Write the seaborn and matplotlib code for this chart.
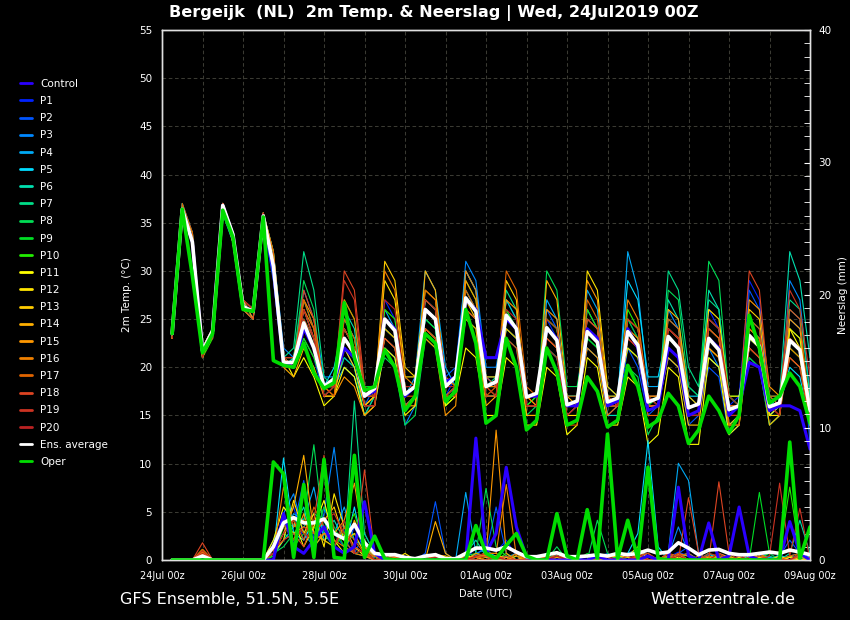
import numpy as np
import pandas as pd
import seaborn as sns
import matplotlib
matplotlib.use("Agg")
import matplotlib.pyplot as plt
from matplotlib.lines import Line2D
from matplotlib.ticker import MultipleLocator

# 6-hourly steps, 24Jul 06z .. 09Aug 00z
times = pd.date_range("2019-07-24 06:00", periods=64, freq="6h")

names = ["Control"] + ["P%d" % i for i in range(1, 21)] + ["Ens. average", "Oper"]
colors = ["#2a00ff", "#0022ff", "#0055ff", "#0088ff", "#00aaf5", "#00dcff",
          "#00e0b0", "#00dd88", "#00dd55", "#00dd25", "#22ee00",
          "#ffff00", "#ffe400", "#ffcc00", "#ffb000", "#ff9800", "#f08000",
          "#e06400", "#dd4422", "#cc3322", "#bb2222", "#ffffff", "#00dd00"]

# 2m temperature (degC)
t_control = [23.5,36.4,33.0,21.7, 23.8,36.8,33.8,26.3, 25.8,35.7,30.0,20.5, 20.0,24.0,22.0,18.0, 18.5,22.0,21.0,17.0, 17.5,25.0,24.0,17.0, 18.0,26.0,25.0,18.5, 19.0,27.0,26.0,21.0, 21.0,25.0,24.0,17.0, 17.0,24.0,23.0,16.0, 16.0,24.0,23.0,16.0, 16.5,24.0,22.0,15.5, 16.0,22.0,21.0,15.0, 15.5,23.0,22.0,15.0, 16.0,20.5,20.0,15.5, 16.0,16.0,15.5,11.5]
t_p1 = [24,36,33,22, 24,37,34,27, 26,36,31,21, 20,26,23,18, 19,22,20,16, 17,27,25,17, 18,25,24,17, 19,28,26,19, 18,27,25,17, 17,25,23,16, 16,22,21,15, 16,25,23,17, 17,23,22,15, 15,26,24,16, 17,29,27,15, 16,25,24,14]
t_p2 = [23,36,33,21, 24,37,33,26, 25,35,29,20, 20,23,21,17, 18,21,20,16, 18,24,23,16, 17,27,26,19, 20,30,28,19, 19,24,23,16, 16,26,24,17, 17,25,24,15, 15,22,20,15, 16,21,20,14, 15,20,19,13, 14,28,26,17, 16,26,25,12]
t_p3 = [24,37,34,22, 23,37,34,27, 26,36,32,22, 21,28,25,19, 19,24,22,16, 16,22,21,14, 16,24,23,17, 18,31,29,20, 20,26,24,17, 17,23,22,16, 16,26,24,18, 17,24,22,17, 16,26,24,18, 17,22,20,15, 16,21,20,14, 15,29,27,17]
t_p4 = [23,36,33,21, 24,37,34,27, 25,36,30,20, 21,25,22,18, 18,20,19,15, 17,26,24,17, 19,30,28,20, 18,26,25,17, 17,24,23,16, 16,27,25,17, 17,28,26,16, 16,32,28,18, 18,25,24,16, 16,21,20,14, 15,24,23,16, 17,23,22,16]
t_p5 = [24,36,33,22, 24,36,33,26, 26,35,31,21, 20,24,22,18, 20,25,23,18, 18,23,22,16, 17,27,26,18, 19,30,28,19, 18,25,24,17, 17,22,21,15, 16,24,23,16, 17,29,27,19, 19,24,23,17, 17,25,24,16, 16,23,22,15, 16,20,19,14]
t_p6 = [23,36,33,22, 24,37,34,27, 26,36,31,20, 21,27,24,18, 18,26,24,16, 17,25,24,17, 18,25,24,17, 18,27,26,18, 18,27,25,16, 17,24,23,17, 17,22,21,15, 15,24,22,16, 17,27,25,17, 16,28,26,17, 16,25,24,16, 17,32,29,21]
t_p7 = [24,37,33,22, 24,37,34,27, 26,36,32,21, 22,32,28,19, 18,21,20,15, 17,24,23,17, 18,26,25,18, 19,28,26,18, 19,28,26,17, 17,25,24,16, 16,23,22,17, 17,22,21,16, 16,30,28,20, 18,27,26,16, 16,24,23,17, 17,27,26,17]
t_p8 = [23,36,33,21, 24,37,33,26, 25,35,30,21, 21,29,26,17, 18,25,23,17, 18,21,20,14, 15,23,22,16, 18,25,24,17, 17,23,22,15, 16,30,28,18, 18,24,23,17, 16,20,19,13, 15,28,27,18, 17,31,29,17, 16,22,21,15, 15,24,23,15]
t_p9 = [24,36,33,22, 24,37,34,27, 26,36,31,21, 20,25,23,17, 18,27,25,18, 18,24,23,16, 17,25,24,16, 18,29,27,19, 19,24,23,16, 16,22,21,16, 16,23,22,16, 16,25,23,16, 17,22,21,15, 15,24,23,17, 17,21,20,14, 15,23,22,16]
t_p10 = [23,36,33,21, 23,37,33,26, 26,35,30,20, 20,23,21,18, 19,24,22,17, 17,26,25,18, 18,24,23,16, 17,26,25,18, 18,26,24,16, 17,25,24,17, 17,26,24,16, 16,26,24,17, 16,23,22,15, 15,23,22,15, 16,25,24,17, 16,22,21,15]
t_p11 = [24,36,33,22, 24,37,34,27, 26,35,31,21, 19,21,19,16, 17,20,19,15, 16,22,21,15, 16,24,23,16, 17,22,21,15, 15,21,20,14, 14,20,19,13, 14,21,20,14, 14,19,18,12, 13,20,19,12, 12,21,20,13, 14,23,22,15, 16,24,22,15]
t_p12 = [23,36,33,21, 24,37,33,26, 25,35,30,20, 20,26,23,17, 17,22,20,16, 17,29,27,19, 19,28,27,19, 18,26,25,17, 17,25,24,16, 16,23,22,15, 15,30,28,18, 17,22,21,16, 16,24,23,16, 16,26,25,17, 17,22,21,15, 15,24,23,16]
t_p13 = [24,36,34,22, 24,37,34,27, 26,36,32,21, 20,24,22,18, 18,23,21,16, 17,31,29,20, 19,27,26,17, 18,27,25,18, 17,29,27,15, 15,24,23,16, 16,25,24,17, 16,23,22,16, 16,21,20,14, 14,22,21,14, 15,26,25,16, 16,21,20,15]
t_p14 = [23,36,33,21, 24,37,33,26, 26,36,31,20, 19,22,20,17, 17,24,22,16, 17,23,22,16, 16,30,28,18, 19,25,24,16, 17,24,23,15, 15,29,27,17, 16,24,23,16, 16,25,24,17, 17,26,25,17, 16,24,23,15, 15,22,21,14, 15,25,24,16]
t_p15 = [24,36,33,22, 24,37,34,27, 25,35,30,21, 20,27,25,18, 17,19,18,15, 16,24,23,16, 17,23,22,15, 16,29,27,19, 19,27,26,17, 16,26,25,16, 16,29,27,17, 17,24,23,16, 16,24,23,16, 16,22,21,14, 14,27,26,18, 17,23,22,14]
t_p16 = [23,36,33,21, 24,37,34,27, 26,36,31,21, 21,26,24,18, 18,27,25,17, 17,30,28,19, 18,24,23,17, 17,30,28,18, 18,25,24,17, 16,24,23,16, 16,22,21,15, 16,27,25,17, 17,23,22,15, 15,25,24,16, 16,24,23,16, 15,22,21,15]
t_p17 = [24,37,34,22, 24,37,34,27, 26,36,32,21, 20,27,24,18, 17,25,23,16, 16,25,24,17, 17,28,27,19, 18,28,26,17, 18,30,28,18, 17,23,22,14, 14,27,25,17, 16,23,22,15, 15,25,24,16, 16,23,22,14, 14,24,23,17, 17,26,25,15]
t_p18 = [23,36,33,22, 23,37,33,26, 25,35,30,20, 20,28,25,17, 18,30,28,18, 17,23,22,16, 17,24,23,17, 17,27,26,19, 18,23,22,16, 16,23,22,15, 16,24,23,16, 16,23,22,16, 16,22,21,15, 15,24,23,16, 16,30,28,17, 16,21,20,14]
t_p19 = [24,36,33,22, 24,37,34,27, 26,36,31,21, 21,25,23,18, 18,29,27,17, 17,25,24,18, 18,26,25,17, 18,26,25,17, 17,25,24,16, 16,25,24,17, 17,25,24,16, 16,25,24,17, 16,24,23,16, 16,23,22,15, 15,25,24,16, 16,28,26,19]
t_p20 = [23,36,33,21, 24,37,34,27, 26,36,31,21, 20,26,23,17, 18,24,22,16, 16,27,26,18, 18,27,26,18, 18,27,26,18, 17,26,25,16, 16,22,21,15, 16,24,23,17, 16,23,22,17, 16,24,23,15, 15,25,24,17, 16,22,21,16, 15,23,22,15]
t_mean = [23.5,36.4,33.0,21.7, 23.8,36.8,33.8,26.3, 25.8,35.7,30.5,20.5, 20.5,24.6,22.0,18.0, 18.8,23.0,21.5,17.0, 17.8,25.0,23.8,17.2, 18.0,26.0,25.0,18.0, 19.0,27.2,25.8,18.0, 18.5,25.4,24.0,16.9, 17.3,24.1,22.8,16.1, 16.5,23.7,22.6,16.4, 16.8,23.7,22.3,16.4, 16.8,23.2,22.0,15.8, 16.2,23.0,21.8,15.6, 16.0,23.3,22.2,15.9, 16.3,22.8,21.8,15.5]
t_oper = [23.5,36.4,29.5,21.5, 23.5,36.3,33.5,26.0, 25.8,35.6,20.7,20.2, 20.0,22.5,19.4,17.8, 18.4,26.7,21.0,17.6, 18.0,21.8,20.0,15.5, 17.0,23.5,22.5,16.5, 17.5,26.0,22.5,14.2, 15.0,23.0,20.0,13.5, 14.5,22.0,19.5,14.0, 14.5,19.0,17.5,13.8, 14.5,20.2,18.0,13.8, 14.5,17.3,16.0,12.1, 13.5,17.0,15.5,13.2, 15.0,25.4,22.0,16.3, 17.0,19.4,18.0,14.2]

# precipitation (mm)
r_control = [0,0,0,0.2, 0,0,0,0, 0,0,0,3.5, 1.0,0.5,1.5,2.5, 1.0,0.5,1.0,4.4, 0.5,0,0,0, 0,0,0,0, 0,0,9.2,0.5, 2.0,7.0,2.5,0.2, 0,0,0,0, 0,0,0.3,0, 0,0,0,0.3, 0,0,5.5,0.3, 0,2.8,0,0.3, 4.0,0.3,0,0, 0,2.9,0.5,0]
r_p1 = [0,0,0,0.3, 0,0,0,0, 0,0,0.8,2.5, 4.0,1.5,3.0,2.0, 1.0,0.5,2.5,0.8, 0.3,0.2,0,0, 0,0.2,0.5,0, 0,0,0.4,1.0, 0.6,1.5,0.3,0, 0,0.2,0,0, 0,0.3,0.5,0, 0.2,0,0.4,0.3, 0,0.2,0.6,0.3, 0,0.4,0.2,0, 0,0,0.3,0.5, 0,0.2,0.3,0]
r_p2 = [0,0,0,0.2, 0,0,0,0, 0,0,1.5,3.0, 2.5,6.0,1.5,4.0, 2.0,1.0,0.5,2.0, 0.5,0,0.3,0, 0,0.5,4.4,0.5, 0,0,1.0,0.5, 4.0,0.5,0,0, 0,0.5,0.3,0, 0,0,0.2,0.5, 0,0,0.3,0, 0,0,0.5,1.0, 0.3,0,0.5,0.2, 0,0.5,0,0, 0.3,1.5,0.5,0]
r_p3 = [0,0,0,0.3, 0,0,0,0, 0,0,0.5,3.5, 5.0,2.0,1.0,3.5, 8.5,2.0,1.0,0.5, 0.2,0.5,0.2,0, 0,0,0.3,0, 0,0,0.5,0.8, 0.2,0.3,0,0.3, 0,0,0.5,0, 0,0,0,0.2, 0,0.5,0.8,0.3, 0,0.3,2.5,0.5, 0,0,0.3,0.2, 0,0,0.5,0.2, 0,0.3,0.5,0.2]
r_p4 = [0,0,0,0.4, 0,0,0,0, 0,0,1.0,2.0, 3.5,3.0,5.5,1.5, 2.0,4.0,1.5,1.0, 0.3,0,0,0.2, 0,0,0,0, 0,5.1,0.5,0.3, 0,0.2,0.5,0, 0,0,0.3,0, 0,0,0.5,0.3, 0,0,0.5,0, 0,0.5,7.3,6.0, 0.5,0,0,0, 0.3,0,0,0.2, 0,0,0.5,0]
r_p5 = [0,0,0,0.2, 0,0,0,0, 0,0,0.5,7.7, 2.0,1.5,3.0,2.5, 1.0,0.5,4.0,0.5, 0,0.2,0,0, 0,0,0.3,0, 0,0,0.2,0.5, 0.3,0,0,0.2, 0,0,0,0.4, 0,0,0.3,0, 0,0.5,2.0,9.0, 1.0,0,0.3,0.5, 0,0.5,0,0, 0,0.3,0,0, 0.4,0,0,0.3]
r_p6 = [0,0,0,0.3, 0,0,0,0, 0,0,0.3,1.5, 2.5,4.0,1.0,2.0, 3.0,1.5,0.5,0.3, 0,0,0.5,0, 0,0.3,0,0, 0,0.5,1.5,0.3, 0,0,0.3,0, 0,0.5,0,0, 0,0,0.2,0, 0.3,0,0.5,0, 0,0,0.4,0.3, 0,0,0.5,0, 0,0,0.3,0, 0,0.5,3.0,0.5]
r_p7 = [0,0,0,0.5, 0,0,0,0, 0,0,0.5,2.0, 1.5,2.5,3.5,3.0, 1.0,0.5,12.0,2.0, 0.5,0,0.3,0, 0,0,0.3,0, 0,0,0.5,0.2, 0,0.3,0,0, 0,0,0.5,0.3, 0,0,0,0.2, 0,0,0.3,0, 0.2,0,0.5,0, 0,0.3,0,0, 0,0,0.2,0.3, 0,0,0.5,0]
r_p8 = [0,0,0,0.4, 0,0,0,0, 0,0,0.5,1.0, 2.0,3.0,8.7,2.0, 1.0,3.0,0.5,0.8, 0,0,0.2,0, 0,0,0.2,0, 0,0.3,0.5,5.4, 1.0,0.3,0,0, 0.2,0,1.0,0, 0,0,3.0,0.5, 0,0,0.2,0, 0,0.3,0.2,0, 0,0.5,0.2,0, 0,0,0.3,0, 0,0.3,0,0.2]
r_p9 = [0,0,0,0.3, 0,0,0,0, 0,0,1.0,3.0, 1.0,2.0,1.5,4.0, 2.5,1.0,2.0,1.5, 0.5,0,0,0, 0,0.3,0,0, 0,0,0.5,0.3, 0,0,0.3,0, 0,0,0.2,0, 0,0.5,0,0, 0.2,0,0.4,0, 0,0,0.2,0, 0,0.2,0,0.3, 0,0,5.1,0.5, 0,0,0.3,0]
r_p10 = [0,0,0,0.5, 0,0,0,0, 0,0,0.3,2.5, 3.0,2.0,2.5,1.5, 1.0,2.0,3.5,1.0, 0,0.5,0,0, 0,0,0,0.3, 0,0,0.2,0, 0,0.5,0,0, 0,0,0.5,0, 0,0,0.3,0, 0,0.2,0,0, 0,0.3,0,0, 0,0,0.3,0, 0,0,0.2,0.5, 0.5,5.5,0.5,0]
r_p11 = [0,0,0,0.8, 0,0,0,0, 0,0,1.5,4.0, 3.0,1.0,2.5,4.5, 1.5,0.5,1.0,0.3, 0,0.2,0,0, 0,0,0,0.2, 0,0.3,0.2,0, 0.3,0,0,0, 0,0,0.3,0, 0,0,0.2,0, 0,0,0.3,0, 0,0,0.2,0, 0,0,0.2,0, 0,0,0.3,0, 0,0.2,0,0]
r_p12 = [0,0,0,0.3, 0,0,0,0, 0,0,0.5,1.5, 4.5,2.0,3.5,1.0, 5.0,2.5,1.0,0.5, 0.3,0,0,0.5, 0,0,0.4,0, 0,0,0.3,0.5, 0,0,0.5,0, 0,0.3,0,0, 0,0,0.5,0, 0,0.3,1.0,0, 0,0.5,0,0, 0,0.3,0,0, 0,0,0.2,0, 0.3,0,0,0]
r_p13 = [0,0,0,0.6, 0,0,0,0, 0,0,1.0,3.0, 2.0,2.5,2.0,3.0, 4.0,1.5,2.0,0.5, 0,0,0.3,0, 0,0,0.5,0, 0,0,0.3,0.5, 0.5,0,0.3,0, 0,0,0.3,0, 0,0,0,0.2, 0.3,0.2,0,0, 0,0,0.4,0, 0,0.2,0.3,0, 0.2,0,0,0, 0,0.3,0,0.2]
r_p14 = [0,0,0,0.4, 0,0,0,0, 0,0,0.5,2.0, 4.0,7.9,2.0,1.5, 1.0,0.5,3.0,1.0, 0.3,0,0.5,0, 0,0,2.9,0.5, 0,0,0.3,0.2, 0.3,0.2,0,0.3, 0,0,0.2,0, 0,0,0.5,0.2, 0,0,0.5,0, 0,0,0.5,0, 0,0.2,0,0.3, 0,0,0.5,0, 0,0,0.3,0]
r_p15 = [0,0,0,0.5, 0,0,0,0, 0,0,0.8,3.0, 1.5,3.5,1.0,2.0, 2.0,3.0,5.8,1.0, 0,0,0.3,0, 0,0,0.4,0.3, 0,0,0.5,0.3, 9.8,0.5,0,0, 0.2,0,0.3,0, 0,0,0.5,0, 0,0,0.3,0.5, 0,0,0.5,0.3, 0,0,0.5,0.2, 0,0,0.3,0, 0,0,0.5,0]
r_p16 = [0,0,0,0.6, 0,0,0,0, 0,0,0.5,5.5, 2.5,3.0,1.5,2.0, 1.5,1.0,0.5,0.3, 0,0,0.2,0, 0,0,0.3,0, 0,0,0,0.5, 0.5,5.7,0.3,0, 0,0,0,0.3, 0,0,0.3,0, 0,0,0.5,0, 0,0.3,0,0, 0.3,0,0.5,0, 0,0.5,0,0, 0,0,0.3,0]
r_p17 = [0,0,0,0.8, 0,0,0,0, 0,0,1.0,2.5, 3.0,1.5,4.0,2.5, 1.0,2.5,1.5,0.5, 0.3,0,0,0, 0,0,0,0.2, 0,0,0.3,0, 0.3,0,0.5,0, 0,0.3,0,0, 0,0,0.3,0.2, 0,0,0.3,0, 0,0.5,0.3,0.5, 0,0.3,0,0, 0,0.2,0.5,0, 0,0.3,0.5,0]
r_p18 = [0,0,0,1.3, 0,0,0,0, 0,0,0.8,1.5, 2.0,1.0,3.0,7.9, 2.0,1.5,0.5,6.8, 0.5,0,0,0, 0,0,0.3,0, 0,0,0.2,0.3, 0,0.3,0,0, 0,0,0.5,0, 0,0,0.3,0, 0,0,0.3,0.5, 0,0.5,0,4.7, 0.5,0,5.9,0.5, 0,0,0.3,0, 0,0,0.3,0.5]
r_p19 = [0,0,0,0.7, 0,0,0,0, 0,0,0.5,3.5, 1.5,2.5,2.0,3.0, 3.5,2.0,1.0,0.5, 0,0,0.3,0, 0,0,0.5,0, 0,0.2,0,0, 0.3,0,0,0, 0,0,0.3,0, 0,0,0.2,0, 0,0.3,0,0, 0,0,0.5,0, 0,0.5,0.3,0, 0,0.5,0,0.3, 5.8,0.3,3.9,0]
r_p20 = [0,0,0,0.5, 0,0,0,0, 0,0,0.5,2.0, 3.0,2.0,1.5,2.5, 1.0,3.0,0.5,0.8, 0,0.3,0,0, 0,0,0.2,0, 0,0,0.3,0.5, 0.2,0,0,0, 0,0,0.3,0, 0,0,0,0.3, 0,0,0.5,0, 0,0,0.3,0, 0,0,0.5,0, 0.3,0,0,0, 0,0,0.5,0]
r_mean = [0,0,0,0.3, 0,0,0,0, 0,0,1.0,2.8, 3.2,2.8,2.8,3.1, 2.0,1.6,2.7,1.3, 0.5,0.4,0.4,0.2, 0.1,0.3,0.4,0.1, 0.1,0.5,0.9,0.9, 0.75,1.0,0.6,0.25, 0.25,0.4,0.55,0.25, 0.25,0.3,0.4,0.3, 0.5,0.4,0.5,0.75, 0.5,0.6,1.3,0.9, 0.4,0.75,0.8,0.5, 0.4,0.4,0.5,0.6, 0.5,0.75,0.6,0.4]
r_oper = [0,0,0,0, 0,0,0,0, 0,0,7.4,6.5, 0.2,5.7,0.2,7.6, 0.2,0.1,7.9,0.2, 1.8,0.1,0,0, 0,0,0,0, 0,0,2.6,0.5, 0.1,1.1,2.0,0.3, 0,0,3.5,0.3, 0,3.8,0.1,9.5, 0.1,3.0,0.1,7.0, 0.1,0,0,0, 0,0,0,0, 0,0,0,0, 0,8.9,0.1,2.5]

temps = [t_control, t_p1, t_p2, t_p3, t_p4, t_p5, t_p6, t_p7, t_p8, t_p9, t_p10,
         t_p11, t_p12, t_p13, t_p14, t_p15, t_p16, t_p17, t_p18, t_p19, t_p20,
         t_mean, t_oper]
rains = [r_control, r_p1, r_p2, r_p3, r_p4, r_p5, r_p6, r_p7, r_p8, r_p9, r_p10,
         r_p11, r_p12, r_p13, r_p14, r_p15, r_p16, r_p17, r_p18, r_p19, r_p20,
         r_mean, r_oper]

sns.set_style("ticks")
plt.rcParams.update({
    "font.family": ["DejaVu Sans"],
    "figure.facecolor": "black",
    "axes.facecolor": "black",
    "axes.edgecolor": "white",
    "text.color": "white",
    "axes.labelcolor": "white",
    "xtick.color": "white",
    "ytick.color": "white",
})

fig = plt.figure(figsize=(8.5, 6.2), dpi=100)
ax = fig.add_axes([162 / 850, 60 / 620, 648 / 850, 530 / 620])
ax2 = ax.twinx()

# members first, then control, ensemble mean and oper on top
order = list(range(1, 21)) + [0, 21, 22]
for k in order:
    lw = 0.8 if 1 <= k <= 20 else (2.2 if k == 0 else 2.6)
    sns.lineplot(x=times, y=temps[k], color=colors[k], lw=lw, ax=ax, legend=False)
    sns.lineplot(x=times, y=rains[k], color=colors[k], lw=lw, ax=ax2, legend=False)

ax.set_xlim(pd.Timestamp("2019-07-24"), pd.Timestamp("2019-08-09"))
ax.set_ylim(0, 55)
ax2.set_ylim(0, 40)

major = pd.date_range("2019-07-24", "2019-08-09", freq="2D")
ax.set_xticks(major)
ax.set_xticklabels([d.strftime("%d%b %Hz") for d in major])
ax.set_xticks(pd.date_range("2019-07-24", "2019-08-09", freq="1D"), minor=True)
ax.set_yticks(np.arange(0, 56, 5))
ax.tick_params(axis="x", which="both", length=0, labelsize=7, pad=8)
ax.tick_params(axis="y", length=0, labelsize=7.5, pad=7)

ax2.yaxis.set_major_locator(MultipleLocator(10))
ax2.yaxis.set_minor_locator(MultipleLocator(1))
ax2.tick_params(axis="y", which="both", direction="in", length=4, labelsize=7.5,
                pad=6, color="white")

grid_kw = dict(color="#3a3a33", ls=(0, (3.5, 2.5)), lw=0.75)
ax.grid(True, which="both", axis="x", **grid_kw)
ax.grid(True, which="major", axis="y", **grid_kw)
ax2.grid(False)

for a in (ax, ax2):
    for s in a.spines.values():
        s.set_color("#e0e0e0")
        s.set_linewidth(1)
        s.set_visible(True)

ax.set_xlabel("")
ax2.set_xlabel("")
ax.set_ylabel("2m Temp. (\u00b0C)", fontsize=7.5, labelpad=5)
ax2.set_ylabel("Neerslag (mm)", fontsize=7.5, labelpad=5)

handles = [Line2D([], [], color=c, lw=2) for c in colors]
fig.legend(handles, names, loc="upper left", bbox_to_anchor=(0.0127, 0.888),
           frameon=False, fontsize=7.5, handlelength=1.1, handletextpad=0.8,
           labelspacing=0.69, borderpad=0.4, labelcolor="white")

fig.text(434 / 850, 1 - 13 / 620, "Bergeijk  (NL)  2m Temp. & Neerslag | Wed, 24Jul2019 00Z",
         ha="center", va="center", fontsize=11.6, fontweight="bold", color="white")
fig.text(486 / 850, 1 - 593 / 620, "Date (UTC)", ha="center", va="center", fontsize=7)
fig.text(120 / 850, 1 - 600 / 620, "GFS Ensemble, 51.5N, 5.5E", ha="left", va="center",
         fontsize=11.5)
fig.text(795 / 850, 1 - 600 / 620, "Wetterzentrale.de", ha="right", va="center",
         fontsize=11.5)

fig.savefig("out.png", dpi=100, facecolor="black")
